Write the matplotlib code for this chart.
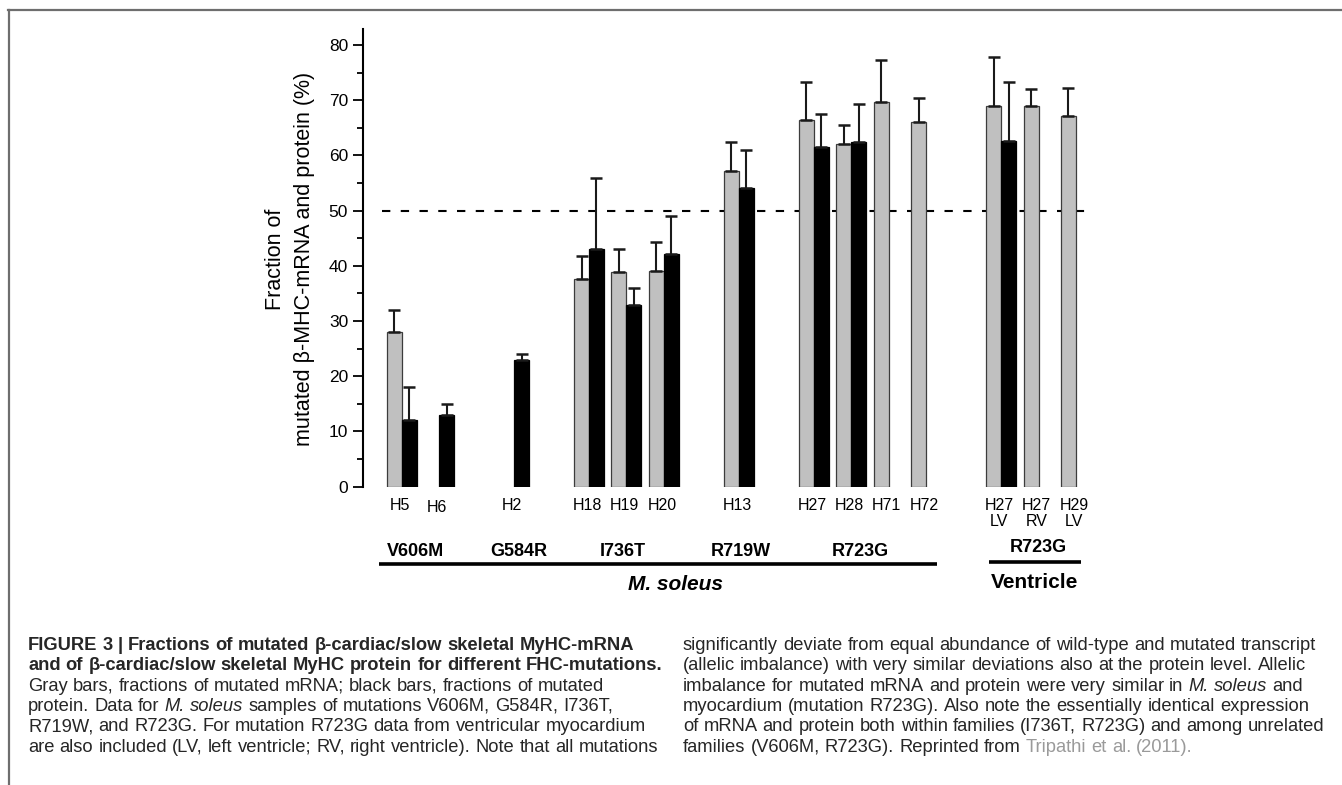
import re
import numpy as np
import matplotlib
matplotlib.use("Agg")
import matplotlib.pyplot as plt
from matplotlib import font_manager
from matplotlib.lines import Line2D

# ---------------- data ----------------
groups = ["V606M", "G584R", "I736T", "R719W", "R723G", "R723G"]
group_samples = [["H5", "H6"], ["H2"], ["H18", "H19", "H20"], ["H13"],
                 ["H27", "H28", "H71", "H72"], ["H27", "H27", "H29"]]
sample_sub = [["", ""], [""], ["", "", ""], [""], ["", "", "", ""], ["LV", "RV", "LV"]]
tissues = ["M. soleus", "Ventricle"]
tissue_groups = [[0, 1, 2, 3, 4], [5]]

mrna = [28.0, np.nan, np.nan, 37.6, 38.9, 39.0, 57.1, 66.4, 62.0, 69.6, 66.1, 69.0, 69.0, 67.1]
mrna_err = [4.0, np.nan, np.nan, 4.2, 4.1, 5.4, 5.3, 6.9, 3.5, 7.7, 4.4, 8.9, 3.0, 5.1]
protein = [12.0, 13.0, 23.0, 43.0, 33.0, 42.1, 54.1, 61.6, 62.4, np.nan, np.nan, 62.7, np.nan, np.nan]
protein_err = [6.0, 2.0, 1.0, 13.0, 3.0, 6.9, 6.9, 5.9, 6.9, np.nan, np.nan, 10.6, np.nan, np.nan]
reference_level = 50

y_ticks = [0, 10, 20, 30, 40, 50, 60, 70, 80]
y_label = "Fraction of\nmutated \u03b2-MHC-mRNA and protein (%)"

caption_left = [
    [("FIGURE 3 | Fractions of mutated \u03b2-cardiac/slow skeletal MyHC-mRNA", "b")],
    [("and of \u03b2-cardiac/slow skeletal MyHC protein for different FHC-mutations.", "b")],
    [("Gray bars, fractions of mutated mRNA; black bars, fractions of mutated", "n")],
    [("protein. Data for ", "n"), ("M. soleus", "i"), (" samples of mutations V606M, G584R, I736T,", "n")],
    [("R719W, and R723G. For mutation R723G data from ventricular myocardium", "n")],
    [("are also included (LV, left ventricle; RV, right ventricle). Note that all mutations", "n")],
]
caption_right = [
    [("significantly deviate from equal abundance of wild-type and mutated transcript", "n")],
    [("(allelic imbalance) with very similar deviations also at the protein level. Allelic", "n")],
    [("imbalance for mutated mRNA and protein were very similar in ", "n"), ("M. soleus", "i"), (" and", "n")],
    [("myocardium (mutation R723G). Also note the essentially identical expression", "n")],
    [("of mRNA and protein both within families (I736T, R723G) and among unrelated", "n")],
    [("families (V606M, R723G). Reprinted from ", "n"), ("Tripathi et al. (2011).", "g")],
]

# ---------------- layout helpers ----------------
W, H = 1342, 785
fig = plt.figure(figsize=(W / 100, H / 100), dpi=100)

avail = {f.name for f in font_manager.fontManager.ttflist}
SANS = "Liberation Sans" if "Liberation Sans" in avail else "DejaVu Sans"
NARROW = "Liberation Sans Narrow" if "Liberation Sans Narrow" in avail else SANS
plt.rcParams["font.family"] = [SANS, "DejaVu Sans"]


def fx(px):
    return px / W


def fy(py):
    return 1 - py / H


# slot positions computed from the group structure (one empty slot between groups)
slot_x = []
group_center = []
group_slots = []
pos = 0
for samples in group_samples:
    xs = []
    for _ in samples:
        xs.append(pos)
        pos += 1
    slot_x.extend(xs)
    group_slots.append(xs)
    group_center.append(np.mean(xs))
    pos += 1
slot_x = np.array(slot_x, dtype=float)

bw = 0.4
ax = fig.add_axes([fx(363), fy(486.7), fx(1100 - 363), (486.7 - 28.5) / H])
ax.set_xlim(-1.033, -1.033 + (1100 - 363) / 37.46)
ax.set_ylim(0, 83)

gray_fc = "#c0c0c0"
ax.bar(slot_x - bw / 2, mrna, width=bw, color=gray_fc, edgecolor="#3c3c3c", linewidth=0.9, zorder=2)
ax.bar(slot_x + bw / 2, protein, width=bw, color="black", edgecolor="black", linewidth=0.9, zorder=2)

m_err = np.array(mrna_err)
p_err = np.array(protein_err)
ax.errorbar(slot_x - bw / 2, mrna, yerr=[np.zeros_like(m_err), m_err], fmt="none",
            ecolor="#1a1a1a", elinewidth=1.5, capsize=4, capthick=1.8, zorder=3)
ax.errorbar(slot_x + bw / 2, protein, yerr=[np.zeros_like(p_err), p_err], fmt="none",
            ecolor="#1a1a1a", elinewidth=1.5, capsize=4, capthick=1.8, zorder=3)

ax.plot([-0.53, 18.37], [reference_level, reference_level], color="black", lw=1.5,
        linestyle=(0, (4, 5)), zorder=1)

for s in ["top", "right", "bottom"]:
    ax.spines[s].set_visible(False)
ax.spines["left"].set_linewidth(1.5)
ax.set_xticks([])
ax.set_yticks(y_ticks)
ax.set_yticks(np.arange(5, 83, 10), minor=True)
ax.tick_params(axis="y", which="major", direction="out", length=7.2, width=1.3,
               labelsize=12.5, pad=3.5)
ax.tick_params(axis="y", which="minor", direction="out", length=4.3, width=1.3)

# y label
fig.text(fx(290), fy(259), y_label, rotation=90, ha="center", va="center",
         fontsize=15.5, linespacing=1.5, multialignment="center")

# ---------- category annotation below axis ----------
xt = ax.get_xaxis_transform()


def ay(py):
    return (486.7 - py) / (486.7 - 28.5)


k = 0
for gi, samples in enumerate(group_samples):
    for si, name in enumerate(samples):
        dy = 507.5 if name == "H6" else 505
        ax.text(slot_x[k] - 0.05, ay(dy), name, transform=xt, ha="center", va="center",
                fontsize=11.5, family=NARROW, clip_on=False)
        sub = sample_sub[gi][si]
        if sub:
            ax.text(slot_x[k] - 0.05, ay(522), sub, transform=xt, ha="center", va="center",
                    fontsize=11.5, family=NARROW, clip_on=False)
        k += 1

grp_off = [-0.14, 0.12, -0.1, 0.05, -0.27, 0.0]
for gi, g in enumerate(groups):
    yy = 548 if gi == 5 else 551
    ax.text(group_center[gi] + grp_off[gi], ay(yy), g, transform=xt, ha="center",
            va="center", fontsize=13, fontweight="bold", clip_on=False)

line_y = [564, 562]
text_y = [585, 583]
tis_x = [7.3, 16.9]
line_pad = [(-0.6, 0.3), (-0.32, 0.14)]
for ti, members in enumerate(tissue_groups):
    xs = [x for gi in members for x in group_slots[gi]]
    x0, x1 = min(xs) + line_pad[ti][0], max(xs) + line_pad[ti][1]
    ax.add_line(Line2D([x0, x1], [ay(line_y[ti])] * 2, transform=xt, color="black",
                       lw=2.6, clip_on=False, solid_capstyle="butt"))
    ax.text(tis_x[ti], ay(text_y[ti]), tissues[ti], transform=xt, ha="center", va="center",
            fontsize=15, fontweight="bold", style="italic" if ti == 0 else "normal",
            clip_on=False)

# ---------- border ----------
bc = "#6e6e6e"
fig.add_artist(Line2D([fx(8), fx(W)], [fy(10), fy(10)], color=bc, lw=1.6, transform=fig.transFigure))
fig.add_artist(Line2D([fx(8.5), fx(8.5)], [fy(10), fy(H)], color=bc, lw=1.6, transform=fig.transFigure))

# ---------- caption ----------
renderer = fig.canvas.get_renderer()
CAP_SIZE = 13.2
styles = {
    "n": dict(color="#262626"),
    "b": dict(color="#262626", fontweight="bold"),
    "i": dict(color="#262626", style="italic"),
    "g": dict(color="#9a9a9a"),
}


def text_w(s, size, st):
    t = fig.text(0, 0, s, fontsize=size, **styles[st])
    w = t.get_window_extent(renderer).width
    t.remove()
    return w


def rich_line(x0, ybase, parts, size):
    x = x0
    gap = size * 100 / 72 * 0.278
    for text, st in parts:
        lead = text.startswith(" ")
        trail = text.endswith(" ")
        core = text.strip(" ")
        if lead:
            x += gap
        # draw words separately so spacing is controlled
        words = core.split(" ")
        for wi, wd in enumerate(words):
            fig.text(fx(x), fy(ybase), wd, fontsize=size, ha="left", va="baseline", **styles[st])
            x += text_w(wd, size, st)
            if wi < len(words) - 1:
                x += gap
        if trail:
            x += gap


base0 = 650
step = 20.3
for i, parts in enumerate(caption_left):
    rich_line(28, base0 + i * step, parts, CAP_SIZE)
for i, parts in enumerate(caption_right):
    rich_line(683, base0 + i * step, parts, CAP_SIZE)

fig.savefig("out.png", dpi=100)
